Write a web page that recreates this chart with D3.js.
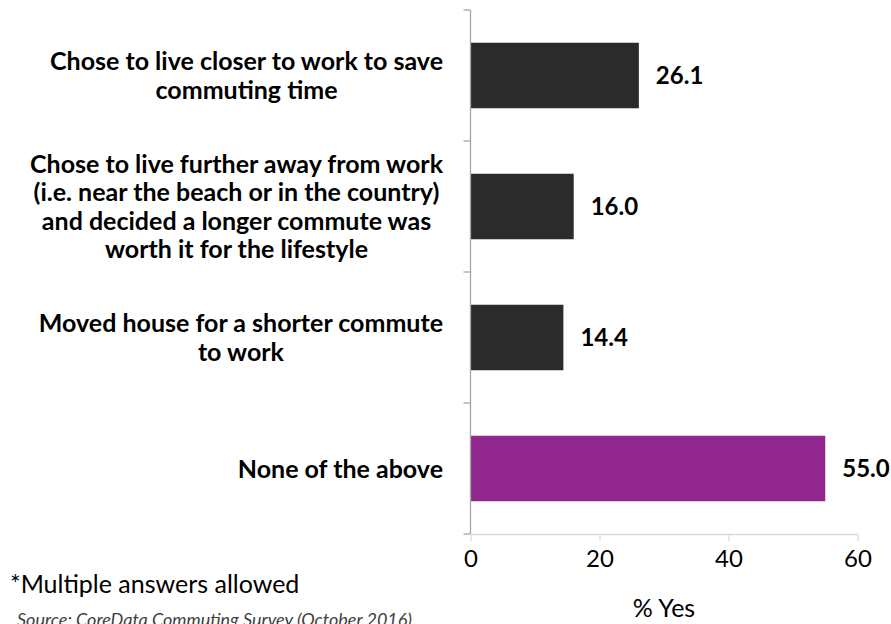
<!DOCTYPE html>
<html>
<head>
<meta charset="utf-8">
<script src="https://cdn.jsdelivr.net/npm/d3@7"></script>
<style>
  body { margin: 0; background: #fff; }
  svg { display: block; font-family: Lato, "Open Sans", sans-serif; }
</style>
</head>
<body>
<div id="chart"></div>
<script>
const categories = [
    ["Chose to live closer to work to save", "commuting time"],
    ["Chose to live further away from work", "(i.e. near the beach or in the country)", "and decided a longer commute was", "worth it for the lifestyle"],
    ["Moved house for a shorter commute", "to work"],
    ["None of the above"]
];
const values = [26.1, 16.0, 14.4, 55.0];
const barColors = ["#2b2b2b", "#2b2b2b", "#2b2b2b", "#92278f"];
const xTicks = [0, 20, 40, 60];

const width = 891, height = 624;
const margin = {top: 10, left: 470.5, right: 33.5, bottom: 90};

const svg = d3.select("#chart").append("svg")
    .attr("width", width)
    .attr("height", height);

const x = d3.scaleLinear().domain([0, 60]).range([margin.left, width - margin.right]);
const y = d3.scaleBand().domain(d3.range(categories.length))
    .range([margin.top, height - margin.bottom])
    .paddingInner(0.5).paddingOuter(0.25);

// bars
svg.append("g").selectAll("rect")
    .data(values)
    .join("rect")
    .attr("x", x(0))
    .attr("y", (d, i) => y(i))
    .attr("width", d => x(d) - x(0))
    .attr("height", y.bandwidth())
    .attr("fill", (d, i) => barColors[i]);

// value labels
svg.append("g").selectAll("text")
    .data(values)
    .join("text")
    .attr("x", d => x(d) + 17)
    .attr("y", (d, i) => y(i) + y.bandwidth() / 2)
    .attr("dy", "0.36em")
    .attr("font-size", 24)
    .attr("font-weight", "bold")
    .attr("fill", "#000")
    .text(d => d.toFixed(1));

// y axis: line + ticks at category boundaries
const step = y.step();
const yAxis = svg.append("g").attr("stroke", "#a6a6a6").attr("stroke-width", 1.3);
yAxis.append("line")
    .attr("x1", x(0)).attr("x2", x(0))
    .attr("y1", margin.top).attr("y2", height - margin.bottom);
yAxis.selectAll("line.tk")
    .data(d3.range(categories.length + 1))
    .join("line").attr("class", "tk")
    .attr("x1", x(0) - 7).attr("x2", x(0))
    .attr("y1", i => margin.top + i * step)
    .attr("y2", i => margin.top + i * step);

// x axis
const xAxis = svg.append("g")
    .attr("transform", `translate(0,${height - margin.bottom})`)
    .call(d3.axisBottom(x).tickValues(xTicks).tickSize(7).tickSizeOuter(0).tickPadding(9));
xAxis.select(".domain").attr("stroke", "#d9d9d9").attr("stroke-width", 1.3);
xAxis.selectAll(".tick line").attr("stroke", "#d9d9d9").attr("stroke-width", 1.3);
xAxis.selectAll(".tick text")
    .attr("font-size", 24)
    .attr("font-family", "Lato, sans-serif")
    .attr("fill", "#000");

// x axis title
svg.append("text")
    .attr("x", (x(0) + x(60)) / 2)
    .attr("y", 617)
    .attr("text-anchor", "middle")
    .attr("font-size", 25)
    .attr("fill", "#000")
    .text("% Yes");

// category labels (centered lines, block right-aligned)
const labelRight = 443;
const lineH = 28.5;
categories.forEach((lines, i) => {
    const g = svg.append("g");
    const cy = y(i) + y.bandwidth() / 2;
    const t = g.selectAll("text")
        .data(lines)
        .join("text")
        .attr("y", (d, j) => cy + (j - (lines.length - 1) / 2) * lineH)
        .attr("dy", "0.36em")
        .attr("font-size", 25)
        .attr("font-weight", "bold")
        .attr("fill", "#000")
        .attr("text-anchor", "middle")
        .text(d => d);
    const maxW = d3.max(t.nodes(), n => n.getComputedTextLength());
    t.attr("x", labelRight - maxW / 2);
});

// footnotes
svg.append("text")
    .attr("x", 10)
    .attr("y", 593)
    .attr("font-size", 25)
    .attr("fill", "#000")
    .text("*Multiple answers allowed");

svg.append("text")
    .attr("x", 17)
    .attr("y", 626)
    .attr("font-size", 18)
    .attr("font-style", "italic")
    .attr("fill", "#404040")
    .text("Source: CoreData Commuting Survey (October 2016)");
</script>
</body>
</html>
